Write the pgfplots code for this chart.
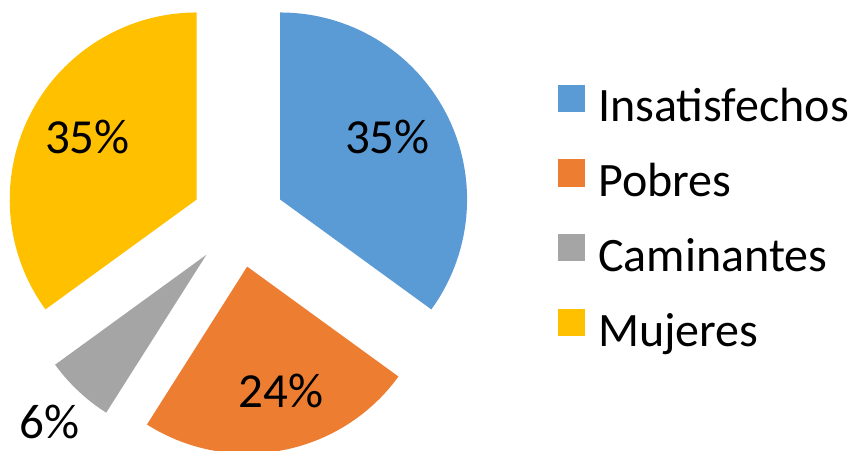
\documentclass[border=0pt]{standalone}
\usepackage{pgfplots}
\pgfplotsset{compat=1.18}
\usepackage{pgfplotstable}
\usepackage{fontspec}
\setmainfont{Carlito}

\definecolor{c1}{HTML}{5B9BD5}
\definecolor{c2}{HTML}{ED7D31}
\definecolor{c3}{HTML}{A5A5A5}
\definecolor{c4}{HTML}{FFC000}

% slices clockwise from 12 o'clock; lr = label distance / radius, da = label angle tweak
\pgfplotstableread{
label         value col lr    da
Insatisfechos 35    c1  0.663 3
Pobres        24    c2  0.689 4.5
Caminantes    6     c3  1.225 0
Mujeres       35    c4  0.672 -2.6
}\piedata

\def\cx{238.4}\def\cy{229.3}\def\R{187}\def\off{46.75}

\begin{document}
\begin{tikzpicture}
\begin{axis}[
    hide axis, scale only axis,
    width=856pt, height=450pt,
    xmin=0, xmax=856, ymin=0, ymax=450,
    clip=false,
    legend image code/.code={\fill[#1, draw=none] (0pt,0pt) rectangle (27pt,27pt);},
    legend cell align=left,
    legend style={draw=none, fill=none, at={(axis cs:558,365.5)}, anchor=north west,
        inner sep=0pt, row sep=27.8pt, column sep=13pt,
        font=\fontsize{48}{56}\selectfont,
        nodes={inner sep=0pt, text height=30pt, text depth=10pt}},
]
\addlegendimage{fill=c1}\addlegendentry{Insatisfechos}
\addlegendimage{fill=c2}\addlegendentry{Pobres}
\addlegendimage{fill=c3}\addlegendentry{Caminantes}
\addlegendimage{fill=c4}\addlegendentry{Mujeres}
\pgfplotsextra{
  \xdef\angA{90}
  \foreach \i in {0,...,3}{
    \pgfplotstablegetelem{\i}{value}\of\piedata \let\v\pgfplotsretval
    \pgfplotstablegetelem{\i}{col}\of\piedata \let\col\pgfplotsretval
    \pgfplotstablegetelem{\i}{lr}\of\piedata \let\lr\pgfplotsretval
    \pgfplotstablegetelem{\i}{da}\of\piedata \let\da\pgfplotsretval
    \pgfmathsetmacro\angB{\angA-3.6*\v}
    \pgfmathsetmacro\mid{(\angA+\angB)/2}
    \pgfmathsetmacro\ax{\cx+\off*cos(\mid)}
    \pgfmathsetmacro\ay{\cy+\off*sin(\mid)}
    \pgfmathsetmacro\lx{\ax+\lr*\R*cos(\mid+\da)}
    \pgfmathsetmacro\ly{\ay+\lr*\R*sin(\mid+\da)}
    \fill[\col] (axis cs:\ax,\ay) -- ++(\angA:\R pt)
        arc[start angle=\angA, end angle=\angB, radius=\R pt] -- cycle;
    \node[font=\fontsize{49}{58}\selectfont, inner sep=0pt] at (axis cs:\lx,\ly) {\v\%};
    \xdef\angA{\angB}
  }
}
\end{axis}
\pgfresetboundingbox
\path (current axis.south west) rectangle (current axis.north east);
\end{tikzpicture}
\end{document}
